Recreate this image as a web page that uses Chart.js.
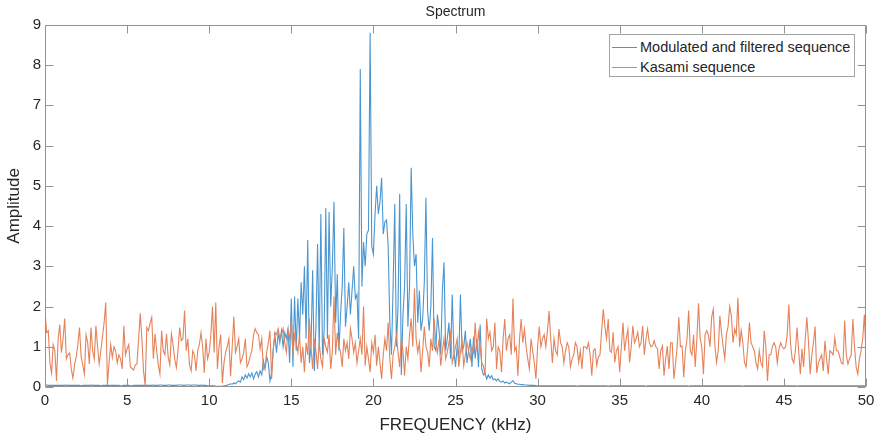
<!DOCTYPE html>
<html>
<head>
<meta charset="utf-8">
<script src="https://cdn.jsdelivr.net/npm/chart.js@4/dist/chart.umd.min.js"></script>
<style>
html,body{margin:0;padding:0;background:#fff;}
#wrap{position:relative;width:882px;height:440px;overflow:hidden;}
#legend{position:absolute;left:609px;top:34px;width:246px;height:43px;box-sizing:border-box;border:1px solid #a3a3a3;background:#fff;font-family:"Liberation Sans",Arial,sans-serif;font-size:14.5px;color:#262626;}
.lrow{position:absolute;left:2px;height:18px;line-height:18px;white-space:nowrap;}
.sw{display:inline-block;width:25px;height:0;border-top:1px solid;vertical-align:middle;margin-right:3px;position:relative;top:-1px;}
</style>
</head>
<body>
<div id="wrap"><canvas id="c" width="882" height="440"></canvas><div id="legend"></div></div>
<script>
// sample spacing of both spectra (kHz)
const FREQ_STEP = 0.1;

const seriesNames = ['Modulated and filtered sequence', 'Kasami sequence'];
const xTicks = [0, 5, 10, 15, 20, 25, 30, 35, 40, 45, 50];
const yTicks = [0, 1, 2, 3, 4, 5, 6, 7, 8, 9];

// Modulated and filtered sequence, one row per kHz (0.0 ... 0.9)
const modulated = [
  0.05,0.05,0.04,0.04,0.04,0.04,0.04,0.04,0.04,0.04,
  0.04,0.04,0.04,0.05,0.04,0.04,0.04,0.04,0.04,0.04,
  0.04,0.04,0.03,0.04,0.04,0.04,0.04,0.04,0.05,0.04,
  0.04,0.04,0.04,0.04,0.03,0.04,0.04,0.04,0.04,0.04,
  0.04,0.04,0.04,0.04,0.04,0.04,0.03,0.03,0.04,0.04,
  0.04,0.04,0.03,0.03,0.04,0.04,0.04,0.04,0.04,0.04,
  0.04,0.04,0.04,0.04,0.04,0.04,0.05,0.04,0.04,0.04,
  0.05,0.05,0.04,0.04,0.04,0.05,0.05,0.04,0.04,0.04,
  0.04,0.05,0.05,0.05,0.04,0.04,0.05,0.05,0.05,0.04,
  0.05,0.05,0.05,0.04,0.04,0.05,0.04,0.04,0.04,0.03,
  0.03,0.03,0.03,0.03,0.02,0.02,0.02,0.02,0.02,0.03,
  0.03,0.05,0.06,0.08,0.07,0.10,0.08,0.12,0.15,0.12,
  0.25,0.18,0.30,0.22,0.33,0.25,0.35,0.20,0.32,0.38,
  0.25,0.40,0.30,0.65,0.45,0.75,0.60,0.15,0.35,0.95,
  1.30,0.85,1.35,1.10,1.40,1.00,1.35,1.20,1.45,0.60,
  2.20,0.50,2.25,0.90,2.20,1.20,2.60,1.80,3.00,1.20,
  3.65,0.60,1.00,2.90,0.40,1.50,3.55,0.90,4.30,0.80,
  1.40,4.45,1.20,4.35,2.00,3.00,4.60,1.60,2.80,0.90,
  1.80,2.50,3.95,1.50,2.00,2.60,1.80,2.40,3.00,2.20,
  2.30,1.20,7.90,2.50,3.60,3.00,3.80,3.90,8.80,3.50,
  3.30,4.30,5.00,4.30,4.60,5.20,3.80,4.10,4.15,3.50,
  1.60,0.80,2.50,4.55,1.00,2.00,4.80,0.30,1.80,2.50,
  4.55,1.50,2.50,5.45,3.80,3.00,3.30,1.60,2.40,1.40,
  1.70,2.60,4.70,1.90,1.40,2.00,3.70,1.00,0.90,1.80,
  1.40,0.80,2.40,3.10,0.90,1.20,1.60,0.70,2.30,0.90,
  0.50,1.00,0.70,2.30,0.90,1.00,1.40,0.60,0.90,1.20,
  0.50,1.25,0.70,1.20,0.50,1.55,0.45,0.30,0.35,0.20,
  0.30,0.22,0.28,0.18,0.20,0.15,0.20,0.14,0.12,0.15,
  0.10,0.12,0.10,0.08,0.12,0.16,0.09,0.08,0.07,0.07,
  0.06,0.06,0.05,0.05,0.05,0.04,0.04,0.04,0.04,0.03,
  0.03,0.03,0.03,0.03,0.03,0.03,0.03,0.03,0.03,0.03,
  0.03,0.03,0.03,0.03,0.03,0.03,0.03,0.03,0.03,0.03,
  0.03,0.03,0.03,0.03,0.02,0.03,0.03,0.03,0.03,0.03,
  0.03,0.03,0.03,0.03,0.03,0.03,0.03,0.03,0.03,0.03,
  0.03,0.03,0.03,0.02,0.03,0.03,0.03,0.03,0.03,0.03,
  0.03,0.03,0.03,0.03,0.03,0.03,0.03,0.03,0.03,0.03,
  0.03,0.03,0.03,0.03,0.03,0.03,0.02,0.03,0.03,0.03,
  0.03,0.03,0.03,0.03,0.03,0.03,0.03,0.03,0.03,0.03,
  0.03,0.03,0.03,0.03,0.03,0.03,0.03,0.03,0.03,0.03,
  0.03,0.03,0.02,0.03,0.03,0.03,0.03,0.03,0.03,0.03,
  0.03,0.03,0.03,0.03,0.03,0.03,0.03,0.03,0.03,0.03,
  0.03,0.03,0.03,0.03,0.03,0.03,0.03,0.03,0.03,0.03,
  0.03,0.03,0.03,0.03,0.03,0.02,0.03,0.03,0.03,0.03,
  0.03,0.03,0.03,0.03,0.03,0.03,0.03,0.03,0.03,0.03,
  0.03,0.03,0.03,0.03,0.03,0.03,0.03,0.03,0.03,0.03,
  0.03,0.03,0.03,0.03,0.03,0.03,0.03,0.03,0.02,0.03,
  0.03,0.03,0.03,0.03,0.03,0.03,0.03,0.03,0.03,0.03,
  0.03,0.03,0.03,0.03,0.03,0.03,0.03,0.03,0.03,0.03,
  0.03,0.03,0.03,0.03,0.03,0.03,0.03,0.03,0.03,0.03,
  0.03,0.03,0.03,0.03,0.03,0.03,0.03,0.03,0.03,0.03,
  0.03
];

// Kasami sequence, one row per kHz (0.0 ... 0.9)
const kasami = [
  1.90,1.35,1.40,0.60,0.35,1.05,0.90,0.15,1.20,1.55,
  0.85,1.20,1.70,0.70,0.80,0.85,0.45,0.22,0.55,0.75,
  1.05,1.48,0.75,0.55,0.32,1.30,1.10,0.57,1.48,0.90,
  0.70,1.52,1.00,0.57,0.90,1.25,1.60,2.10,0.05,0.60,
  1.06,0.73,1.00,0.90,0.60,0.80,0.70,0.45,1.52,0.80,
  0.95,1.05,0.50,0.46,0.42,0.55,0.57,1.20,1.83,1.20,
  0.40,0.03,1.48,1.40,1.58,1.73,0.70,1.32,0.90,0.55,
  0.32,1.40,0.90,0.80,1.32,0.75,0.55,1.32,1.05,0.70,
  0.48,0.90,1.48,1.15,1.20,1.90,0.90,1.20,0.55,0.40,
  0.90,0.80,0.40,0.90,1.05,1.35,1.00,0.35,1.20,0.70,
  0.86,1.30,2.00,0.86,2.10,0.45,1.00,1.30,0.10,0.60,
  0.86,1.00,1.20,0.27,1.00,1.75,0.86,1.00,1.20,0.60,
  0.70,0.86,1.20,0.50,0.60,0.78,0.90,1.30,1.45,1.35,
  1.30,0.95,1.20,0.44,0.50,0.86,1.10,1.40,0.20,0.90,
  1.35,1.30,1.45,1.20,1.30,1.45,1.10,0.86,1.40,1.20,
  1.65,0.80,1.30,1.10,0.86,1.30,0.60,1.00,0.37,1.10,
  0.80,1.70,1.00,0.45,1.20,0.90,0.45,1.10,0.70,0.50,
  1.20,1.00,0.86,1.30,0.45,0.90,2.25,0.80,1.35,1.00,
  0.86,0.50,1.20,0.90,1.10,0.70,1.45,1.20,0.86,1.10,
  0.60,0.90,1.20,0.80,2.00,0.53,1.00,0.70,0.37,1.10,
  0.86,1.30,0.53,1.00,0.60,0.20,0.80,1.20,0.90,1.60,
  0.70,0.20,0.80,1.00,1.30,0.86,0.50,1.20,0.90,0.28,
  1.00,0.70,1.30,1.70,1.00,2.45,1.20,0.86,1.10,0.37,
  0.90,1.50,1.00,0.86,0.50,1.20,0.90,1.70,1.10,0.86,
  1.20,0.53,0.90,1.20,0.70,0.86,1.10,1.35,0.60,0.78,
  1.00,1.20,0.50,0.86,1.15,0.53,0.80,1.10,0.90,0.70,
  1.00,0.86,1.60,0.90,1.36,1.00,0.60,0.53,0.28,1.70,
  1.20,1.36,0.90,1.00,1.60,0.45,1.00,0.90,0.37,1.20,
  1.69,0.90,1.20,1.30,0.80,2.20,0.90,1.00,0.28,1.20,
  1.69,1.10,1.44,1.00,0.70,0.45,1.20,0.90,0.60,0.20,
  1.00,1.50,1.00,1.20,1.30,1.00,1.40,1.89,1.20,0.60,
  1.20,0.90,0.80,1.44,1.10,1.00,0.60,0.90,1.10,1.00,
  0.50,0.70,0.80,1.10,1.00,0.61,0.90,0.45,1.00,1.00,
  0.95,1.10,0.80,0.28,0.90,0.95,0.53,0.75,0.80,1.40,
  1.93,1.50,1.20,1.69,0.90,0.86,1.36,0.61,0.90,1.00,
  0.37,1.00,1.60,0.90,1.20,1.44,0.61,1.00,1.52,1.10,
  1.20,1.36,1.00,1.10,1.52,0.80,1.20,1.44,1.10,1.00,
  1.02,1.15,1.00,0.95,0.45,0.90,1.02,0.28,0.70,1.02,
  0.45,1.10,1.10,0.20,0.57,1.00,1.73,1.00,1.02,0.24,
  0.90,1.20,1.90,0.90,0.80,1.30,0.50,1.20,2.08,1.20,
  1.00,0.32,1.30,1.40,1.30,1.00,1.73,1.93,1.02,0.61,
  0.90,1.77,1.35,1.00,0.70,1.30,1.50,2.00,1.77,1.10,
  1.44,1.30,2.22,1.00,1.40,1.10,0.61,0.50,1.00,1.60,
  1.10,1.00,0.90,0.60,0.45,0.90,0.60,0.50,1.40,1.00,
  0.15,0.80,0.80,1.00,1.10,1.00,0.60,0.95,1.10,1.00,
  0.95,1.00,1.30,2.05,1.10,0.70,0.60,0.90,1.48,0.90,
  0.32,0.95,0.50,1.20,1.73,1.10,0.32,0.80,1.10,1.50,
  0.35,0.60,0.70,0.80,0.40,1.15,0.70,0.32,0.90,0.86,
  0.80,1.23,0.90,0.90,0.75,0.60,0.57,1.65,0.80,0.57,
  0.70,0.80,1.69,1.00,0.50,0.32,0.70,0.90,1.20,1.80,
  0.80
];

const FONT = '"Liberation Sans", Arial, Helvetica, sans-serif';
const TEXT = '#262626';
const AXIS = '#939393';
const BLUE = '#4b96d0';
const ORANGE = '#e5825a';

const toPoints = arr => arr.map((v, i) => ({ x: Math.round(i * FREQ_STEP * 1000) / 1000, y: v }));

const boxPlugin = {
  id: 'matlabBox',
  afterDraw(chart) {
    const { ctx, chartArea: a, scales: { x, y } } = chart;
    const L = Math.round(a.left) + 0.5, R = Math.round(a.right) - 0.5;
    const T = Math.round(a.top) + 0.5, B = Math.round(a.bottom) - 0.5;
    const len = 8;
    ctx.save();
    ctx.strokeStyle = AXIS;
    ctx.lineWidth = 1;
    ctx.beginPath();
    ctx.moveTo(L, T); ctx.lineTo(R, T); ctx.lineTo(R, B); ctx.lineTo(L, B); ctx.closePath();
    xTicks.forEach(v => {
      const px = Math.round(x.getPixelForValue(v)) + 0.5;
      ctx.moveTo(px, B); ctx.lineTo(px, B - len);
      ctx.moveTo(px, T); ctx.lineTo(px, T + len);
    });
    yTicks.forEach(v => {
      const py = Math.round(y.getPixelForValue(v)) + 0.5;
      ctx.moveTo(L, py); ctx.lineTo(L + len, py);
      ctx.moveTo(R, py); ctx.lineTo(R - len, py);
    });
    ctx.stroke();
    ctx.restore();
  }
};

const chart = new Chart(document.getElementById('c'), {
  type: 'line',
  data: {
    datasets: [
      { label: seriesNames[0], data: toPoints(modulated), borderColor: BLUE, borderWidth: 1.1, pointRadius: 0, tension: 0, order: 1 },
      { label: seriesNames[1], data: toPoints(kasami), borderColor: ORANGE, borderWidth: 1.1, pointRadius: 0, tension: 0, order: 0 }
    ]
  },
  options: {
    responsive: false,
    animation: false,
    events: [],
    layout: { padding: { top: 0, right: 16, bottom: 0, left: 0 } },
    plugins: {
      legend: { display: false },
      tooltip: { enabled: false },
      title: {
        display: true, text: 'Spectrum', fullSize: false, color: TEXT,
        font: { family: FONT, size: 14, weight: 'normal' },
        padding: { top: 4, bottom: 4 }
      }
    },
    scales: {
      x: {
        type: 'linear', min: 0, max: 50,
        afterBuildTicks: s => { s.ticks = xTicks.map(v => ({ value: v })); },
        ticks: { color: TEXT, font: { family: FONT, size: 15 }, padding: 5, maxRotation: 0, autoSkip: false },
        grid: { display: false, drawTicks: false },
        border: { display: false },
        title: { display: true, text: 'FREQUENCY (kHz)', color: TEXT, font: { family: FONT, size: 17 }, padding: { top: 0, bottom: 4 } },
        afterFit: s => { s.height = 53; }
      },
      y: {
        type: 'linear', min: 0, max: 9,
        afterBuildTicks: s => { s.ticks = yTicks.map(v => ({ value: v })); },
        ticks: { color: TEXT, font: { family: FONT, size: 15 }, padding: 4, autoSkip: false },
        grid: { display: false, drawTicks: false },
        border: { display: false },
        title: { display: true, text: 'Amplitude', color: TEXT, font: { family: FONT, size: 17 }, padding: { top: 4, bottom: 0 } },
        afterFit: s => { s.width = 45; }
      }
    }
  },
  plugins: [boxPlugin]
});

// legend built from the chart's datasets
const leg = document.getElementById('legend');
chart.data.datasets.forEach((ds, i) => {
  const row = document.createElement('div');
  row.className = 'lrow';
  row.style.top = (3 + i * 20) + 'px';
  const sw = document.createElement('span');
  sw.className = 'sw';
  sw.style.borderTopColor = ds.borderColor;
  row.appendChild(sw);
  row.appendChild(document.createTextNode(ds.label));
  leg.appendChild(row);
});
</script>
</body>
</html>
